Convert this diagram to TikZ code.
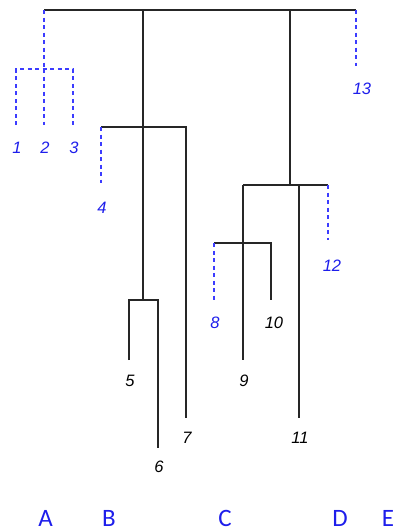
\documentclass[tikz,border=0pt]{standalone}
\usepackage{fontspec}
\setmainfont{Liberation Sans}
\newfontfamily\letterfont{Carlito}
\definecolor{lblue}{RGB}{30,30,235}
\definecolor{dblue}{RGB}{60,60,255}
\begin{document}
\begin{tikzpicture}[x=1pt,y=-1pt,
  solidline/.style={draw=black!85,line width=1.2pt},
  dashline/.style={draw=dblue,line width=1.2pt,dash pattern=on 4pt off 3.5pt},
  leaf/.style={font=\fontsize{16.5}{18}\selectfont\itshape,text=black,inner sep=0pt},
  bleaf/.style={leaf,text=lblue},
  letter/.style={font=\letterfont\fontsize{25}{28}\selectfont,text=lblue,inner sep=0pt,anchor=base}]
\useasboundingbox (0,0) rectangle (397,531);
% tree coordinates
\coordinate (rL) at (44,10);
\coordinate (rA) at (143,10);
\coordinate (rB) at (290,10);
\coordinate (rR) at (356,10);
\coordinate (t13) at (356,66);
% subtree 1-3
\coordinate (a0) at (44,69);
\coordinate (a1) at (16,69);
\coordinate (a3) at (73,69);
\coordinate (e1) at (16,125);
\coordinate (e2) at (44,125);
\coordinate (e3) at (73,125);
% subtree A
\coordinate (b4) at (101,127);
\coordinate (b7) at (186,127);
\coordinate (e4) at (101,183);
\coordinate (e7) at (186,418);
\coordinate (c0) at (143,300);
\coordinate (c5) at (129,300);
\coordinate (c6) at (158,300);
\coordinate (e5) at (129,360);
\coordinate (e6) at (158,448);
% subtree B
\coordinate (d0) at (290,185);
\coordinate (d9) at (243,185);
\coordinate (d11) at (299,185);
\coordinate (d12) at (328,185);
\coordinate (e9) at (243,360);
\coordinate (e11) at (299,418);
\coordinate (e12) at (328,240);
\coordinate (f8) at (214,243);
\coordinate (f10) at (271,243);
\coordinate (e8) at (214,300);
\coordinate (e10) at (271,300);

% solid branches
\draw[solidline] (rL) -- (rR);
\draw[solidline] (rA) -- (c0);
\draw[solidline] (b4) -- (b7) -- (e7);
\draw[solidline] (e5) -- (c5) -- (c6) -- (e6);
\draw[solidline] (rB) -- (d0);
\draw[solidline] (d9) -- (d12);
\draw[solidline] (d9) -- (e9);
\draw[solidline] (d11) -- (e11);
\draw[solidline] (f8) -- (f10) -- (e10);
% dashed branches
\draw[dashline] (rL) -- (a0);
\draw[dashline] (e1) -- (a1) -- (a3) -- (e3);
\draw[dashline] (a0) -- (e2);
\draw[dashline] (b4) -- (e4);
\draw[dashline] (rR) -- (t13);
\draw[dashline] (d12) -- (e12);
\draw[dashline] (f8) -- (e8);

% leaf labels
\node[bleaf] (l1) at (17,148) {1};
\node[bleaf] (l2) at (45,148) {2};
\node[bleaf] (l3) at (74,148) {3};
\node[bleaf] (l4) at (102,208) {4};
\node[leaf] (l5) at (130,381) {5};
\node[leaf] (l6) at (159,467) {6};
\node[leaf] (l7) at (187,438) {7};
\node[bleaf] (l8) at (215,323) {8};
\node[leaf] (l9) at (244,381) {9};
\node[leaf] (l10) at (274,323) {10};
\node[leaf] (l11) at (300,438) {11};
\node[bleaf] (l12) at (332,266) {12};
\node[bleaf] (l13) at (362,89) {13};

% letters
\node[letter] (LA) at (45.5,526) {A};
\node[letter] (LB) at (109,526) {B};
\node[letter] (LC) at (225,526) {C};
\node[letter] (LD) at (340,526) {D};
\node[letter] (LE) at (388,526) {E};
\end{tikzpicture}
\end{document}
